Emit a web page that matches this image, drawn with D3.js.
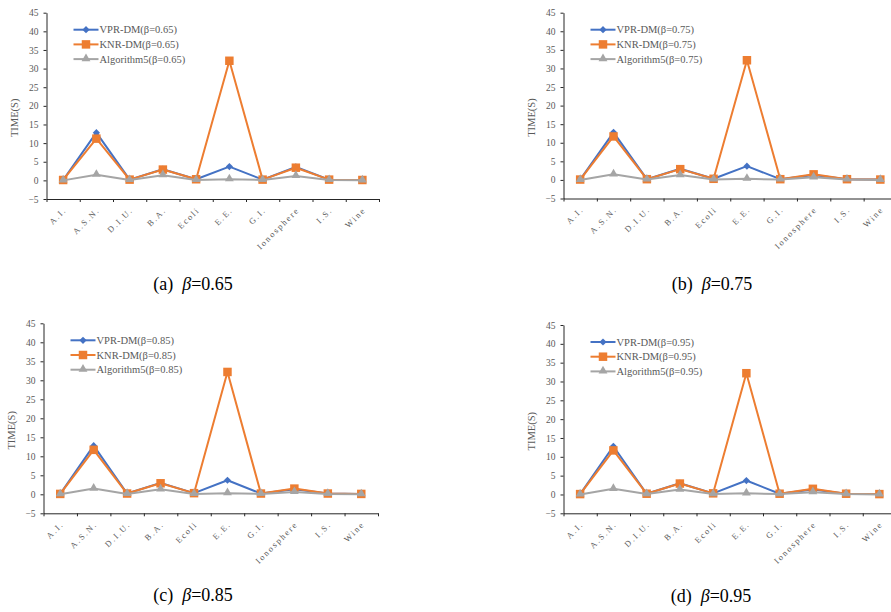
<!DOCTYPE html>
<html>
<head>
<meta charset="utf-8">
<script src="https://cdn.jsdelivr.net/npm/d3@7"></script>
<style>
  body { margin: 0; background: #fff; }
  svg { display: block; }
  svg text { font-family: "Liberation Serif", "Times New Roman", serif; }
</style>
</head>
<body>
<script>
// datasets on the x axis
var categories = ["A.I.", "A.S.N.", "D.I.U.", "B.A.", "Ecoli", "E.E.", "G.I.", "Ionosphere", "I.S.", "Wine"];
var yTicks = [-5, 0, 5, 10, 15, 20, 25, 30, 35, 40, 45];
var betas = ["0.65", "0.75", "0.85", "0.95"];
var panelLetters = ["a", "b", "c", "d"];

// running time (s), one array per method and beta
var vpr65 = [0.1, 12.8, 0.2, 3.0, 0.3, 3.7, 0.2, 3.6, 0.2, 0.1];
var knr65 = [0.1, 11.2, 0.2, 2.9, 0.3, 32.1, 0.2, 3.4, 0.2, 0.1];
var alg65 = [0.0, 1.5, 0.1, 1.4, 0.1, 0.3, 0.1, 1.2, 0.1, 0.0];

var vpr75 = [0.1, 12.8, 0.2, 3.0, 0.3, 3.7, 0.2, 1.3, 0.2, 0.1];
var knr75 = [0.1, 11.7, 0.2, 2.9, 0.3, 32.2, 0.2, 1.5, 0.2, 0.1];
var alg75 = [0.0, 1.5, 0.1, 1.3, 0.1, 0.3, 0.1, 0.7, 0.1, 0.0];

var vpr85 = [0.1, 12.8, 0.2, 3.0, 0.3, 3.7, 0.2, 1.3, 0.2, 0.1];
var knr85 = [0.1, 11.7, 0.2, 2.9, 0.3, 32.2, 0.2, 1.5, 0.2, 0.1];
var alg85 = [0.0, 1.5, 0.1, 1.3, 0.1, 0.3, 0.1, 0.6, 0.1, 0.0];

var vpr95 = [0.1, 12.8, 0.2, 3.0, 0.3, 3.7, 0.2, 1.3, 0.2, 0.1];
var knr95 = [0.1, 11.7, 0.2, 2.9, 0.3, 32.2, 0.2, 1.5, 0.2, 0.1];
var alg95 = [0.0, 1.5, 0.1, 1.3, 0.1, 0.3, 0.1, 0.6, 0.1, 0.0];

var panelData = [
  [vpr65, knr65, alg65],
  [vpr75, knr75, alg75],
  [vpr85, knr85, alg85],
  [vpr95, knr95, alg95]
];

var seriesNames = ["VPR-DM", "KNR-DM", "Algorithm5"];
var colors = ["#4472C4", "#ED7D31", "#A5A5A5"];

var w = 891, h = 612;
var font = "Liberation Serif";

// plot frames: left/right of x axis, top (45) and bottom (-5) of y axis, caption place
var layout = [
  { left: 46.5, right: 379, top: 12.7, bottom: 199, capX: 193, capY: 290 },
  { left: 563.5, right: 897, top: 12.7, bottom: 198.5, capX: 712, capY: 290 },
  { left: 43.5, right: 378, top: 323.3, bottom: 513.3, capX: 193, capY: 601 },
  { left: 563.5, right: 896, top: 325, bottom: 513.3, capX: 711, capY: 602 }
];

var svg = d3.select("body").append("svg")
  .attr("width", w)
  .attr("height", h)
  .attr("font-family", font);

function marker(g, i, cx, cy) {
  if (i === 0) {
    g.append("path")
      .attr("d", d3.symbol().type(d3.symbolSquare).size(26)())
      .attr("transform", "translate(" + cx + "," + cy + ") rotate(45)")
      .attr("fill", colors[i]);
  } else if (i === 1) {
    g.append("path")
      .attr("d", d3.symbol().type(d3.symbolSquare).size(72)())
      .attr("transform", "translate(" + cx + "," + cy + ")")
      .attr("fill", colors[i]);
  } else {
    g.append("path")
      .attr("d", d3.symbol().type(d3.symbolTriangle).size(34)())
      .attr("transform", "translate(" + cx + "," + (cy - 0.5) + ")")
      .attr("fill", colors[i]);
  }
}

layout.forEach(function(p, k){
  var g = svg.append("g").attr("class", "panel");

  var x = d3.scaleBand()
    .domain(categories)
    .range([p.left, p.right]);

  var xEdge = d3.scaleLinear()
    .domain([0, categories.length])
    .range([p.left, p.right]);

  var y = d3.scaleLinear()
    .domain([-5, 45])
    .range([p.bottom, p.top]);

  // y axis
  var yAxis = g.append("g")
    .attr("transform", "translate(" + p.left + ",0)")
    .call(d3.axisLeft(y).tickValues(yTicks).tickSize(3).tickSizeOuter(0).tickPadding(5))
    .attr("font-family", font)
    .attr("font-size", 9.5);
  yAxis.select(".domain").attr("stroke", "#262626");
  yAxis.selectAll(".tick line").attr("stroke", "#262626");
  yAxis.selectAll(".tick text")
    .attr("fill", "#595959");

  // x axis, ticks between categories
  var xAxis = g.append("g")
    .attr("transform", "translate(0," + p.bottom + ")")
    .call(d3.axisBottom(xEdge).tickValues(d3.range(0, categories.length + 1)).tickSize(3).tickSizeOuter(0).tickFormat(""));
  xAxis.select(".domain").attr("stroke", "#262626");
  xAxis.selectAll(".tick line").attr("stroke", "#262626");

  g.selectAll(".xlab")
    .data(categories)
    .enter()
    .append("text")
    .attr("class", "xlab")
    .attr("text-anchor", "end")
    .attr("transform", function(d){
      return "translate(" + (x(d) + x.bandwidth() / 2 + 4) + "," + (p.bottom + 11.5) + ") rotate(-45)";
    })
    .attr("fill", "#595959")
    .attr("font-size", 8.5)
    .attr("letter-spacing", 1.8)
    .text(function(d){ return d; });

  // axis title
  g.append("text")
    .attr("transform", "translate(" + (p.left - 29) + "," + ((p.top + p.bottom) / 2 + 12) + ") rotate(-90)")
    .attr("text-anchor", "middle")
    .attr("fill", "#595959")
    .attr("font-size", 10.5)
    .text("TIME(S)");

  // series
  var line = d3.line()
    .x(function(d, i){ return x(categories[i]) + x.bandwidth() / 2; })
    .y(function(d){ return y(d); });

  panelData[k].forEach(function(vals, si){
    g.append("path")
      .datum(vals)
      .attr("d", line)
      .attr("fill", "none")
      .attr("stroke", colors[si])
      .attr("stroke-width", 2)
      .attr("stroke-linejoin", "round");
    vals.forEach(function(v, i){
      marker(g, si, x(categories[i]) + x.bandwidth() / 2, y(v));
    });
  });

  // legend
  var lg = g.append("g")
    .attr("transform", "translate(" + (p.left + 27) + "," + (p.top + 17) + ")");
  seriesNames.forEach(function(name, si){
    var ly = si * 14.7;
    lg.append("line")
      .attr("x1", 0).attr("x2", 25)
      .attr("y1", ly).attr("y2", ly)
      .attr("stroke", colors[si])
      .attr("stroke-width", 2);
    marker(lg, si, 12.5, ly);
    lg.append("text")
      .attr("x", 26)
      .attr("y", ly + 3.6)
      .attr("fill", "#595959")
      .attr("font-size", 10.5)
      .text(name + "(\u03b2=" + betas[k] + ")");
  });

  // caption
  var cap = g.append("text")
    .attr("x", p.capX)
    .attr("y", p.capY)
    .attr("text-anchor", "middle")
    .attr("fill", "#000")
    .attr("font-size", 18)
    .style("white-space", "pre");
  cap.append("tspan").text("(" + panelLetters[k] + ")  ");
  cap.append("tspan").attr("font-style", "italic").text("\u03b2");
  cap.append("tspan").text("=" + betas[k]);
});
</script>
</body>
</html>
